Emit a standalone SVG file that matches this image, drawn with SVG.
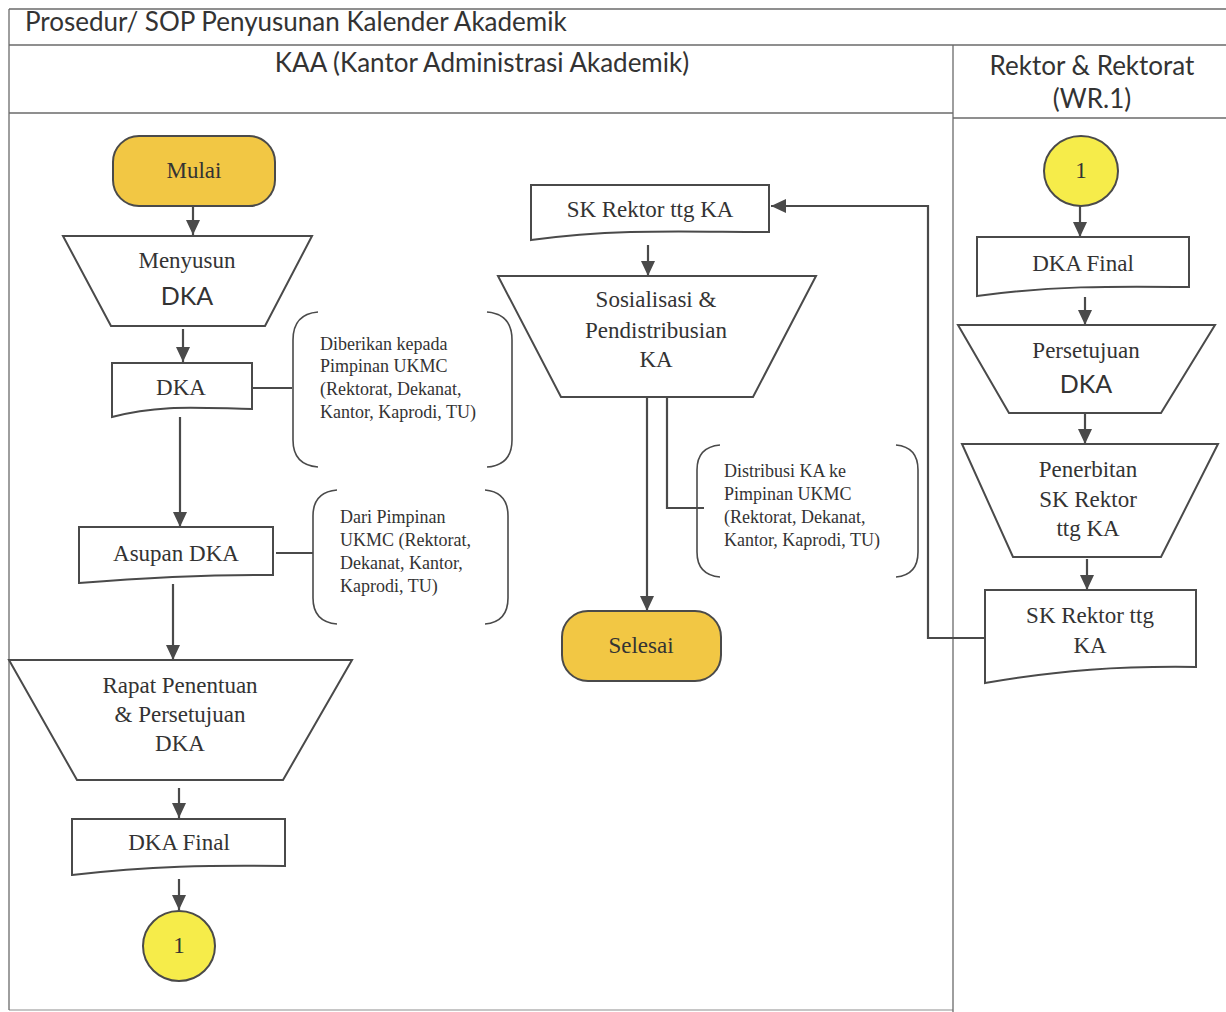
<svg xmlns="http://www.w3.org/2000/svg" width="1226" height="1012" viewBox="0 0 1226 1012">
<defs>
<marker id="arr" markerUnits="userSpaceOnUse" markerWidth="16" markerHeight="14" refX="15" refY="7" orient="auto">
<path d="M0,0 L15,7 L0,14 z" fill="#4a4a4a"/>
</marker>
<style>
.frame{stroke:#6a6a6a;stroke-width:1.3;fill:none}
.shape{fill:#fff;stroke:#4a4a4a;stroke-width:2}
.term{fill:#F2C744;stroke:#4a4a4a;stroke-width:2}
.conn{fill:#F6EC4A;stroke:#4a4a4a;stroke-width:2}
.brace{fill:none;stroke:#4a4a4a;stroke-width:1.6}
.ln{fill:none;stroke:#4a4a4a;stroke-width:2.2}
.t{font-family:"Liberation Serif","Times New Roman",serif;font-size:23px;fill:#333;text-anchor:middle}
.s{font-family:Lato,"Liberation Sans",sans-serif;font-size:25px;fill:#333;text-anchor:middle}
.n{font-family:"Liberation Serif","Times New Roman",serif;font-size:18px;fill:#333}
.h{font-family:Lato,"Liberation Sans",sans-serif;fill:#333}
</style>
</defs>
<rect width="1226" height="1012" fill="#fff"/>
<g id="frame">
<line class="frame" x1="9" y1="9" x2="1226" y2="9"/>
<line class="frame" x1="9" y1="45" x2="1226" y2="45"/>
<line class="frame" x1="9" y1="9" x2="9" y2="1010"/>
<line class="frame" x1="9" y1="113" x2="953" y2="113"/>
<line class="frame" x1="953" y1="118" x2="1226" y2="118"/>
<line class="frame" x1="953" y1="45" x2="953" y2="1012"/>
<line class="frame" x1="9" y1="1010" x2="953" y2="1010" stroke-opacity="0.5"/>
<text class="h" x="25" y="31" font-size="26">Prosedur/ SOP Penyusunan Kalender Akademik</text>
<text class="h" x="482" y="72" font-size="26" text-anchor="middle">KAA (Kantor Administrasi Akademik)</text>
<text class="h" x="1092" y="75" font-size="26" text-anchor="middle">Rektor &amp; Rektorat</text>
<text class="h" x="1092" y="108" font-size="26" text-anchor="middle">(WR.1)</text>
</g>
<g id="connectors">
<path class="ln" d="M193,206 V235" marker-end="url(#arr)"/>
<path class="ln" d="M183,329 V362" marker-end="url(#arr)"/>
<path class="ln" d="M180,417 V527" marker-end="url(#arr)"/>
<path class="ln" d="M173,584 V660" marker-end="url(#arr)"/>
<path class="ln" d="M179,788 V818" marker-end="url(#arr)"/>
<path class="ln" d="M179,879 V910" marker-end="url(#arr)"/>
<path class="ln" d="M253,388 H292"/>
<path class="ln" d="M276,553 H313"/>
<path class="ln" d="M648,245 V276" marker-end="url(#arr)"/>
<path class="ln" d="M647,397 V611" marker-end="url(#arr)"/>
<path class="ln" d="M667,392 V508 H704"/>
<path class="ln" d="M1080,206 V237" marker-end="url(#arr)"/>
<path class="ln" d="M1085,297 V325" marker-end="url(#arr)"/>
<path class="ln" d="M1085,414 V444" marker-end="url(#arr)"/>
<path class="ln" d="M1087,559 V590" marker-end="url(#arr)"/>
<path class="ln" d="M985,638 H928 V206 H771" marker-end="url(#arr)"/>
</g>
<g id="mulai">
<rect class="term" x="113" y="136" width="162" height="70" rx="26"/>
<text class="t" x="194" y="178">Mulai</text>
</g>
<g id="menyusun">
<path class="shape" d="M63,236 H312 L265,326 H111 Z"/>
<text class="t" x="187" y="268">Menyusun</text>
<text class="s" x="187" y="305">DKA</text>
</g>
<g id="dka">
<path class="shape" d="M112,363 H252 V409 C200,408 160,404 112,417 Z"/>
<text class="t" x="181" y="395">DKA</text>
</g>
<g id="note1">
<path class="brace" d="M318,312 Q293,314 293,340 V440 Q293,465 318,467"/>
<path class="brace" d="M487,312 Q512,314 512,340 V440 Q512,465 487,467"/>
<text class="n" x="320" y="350">Diberikan kepada</text>
<text class="n" x="320" y="372">Pimpinan UKMC</text>
<text class="n" x="320" y="395">(Rektorat, Dekanat,</text>
<text class="n" x="320" y="418">Kantor, Kaprodi, TU)</text>
</g>
<g id="asupan">
<path class="shape" d="M79,527 H273 V575 C200,574 140,578 79,583 Z"/>
<text class="t" x="176" y="561">Asupan DKA</text>
</g>
<g id="note2">
<path class="brace" d="M337,490 Q313,492 313,516 V598 Q313,622 337,624"/>
<path class="brace" d="M485,490 Q508,492 508,516 V598 Q508,622 485,624"/>
<text class="n" x="340" y="523">Dari Pimpinan</text>
<text class="n" x="340" y="546">UKMC (Rektorat,</text>
<text class="n" x="340" y="569">Dekanat, Kantor,</text>
<text class="n" x="340" y="592">Kaprodi, TU)</text>
</g>
<g id="rapat">
<path class="shape" d="M9,660 H352 L283,780 H77 Z"/>
<text class="t" x="180" y="693">Rapat Penentuan</text>
<text class="t" x="180" y="722">&amp; Persetujuan</text>
<text class="t" x="180" y="751">DKA</text>
</g>
<g id="dkafinal">
<path class="shape" d="M72,819 H285 V866 C210,865 150,866 72,875 Z"/>
<text class="t" x="179" y="850">DKA Final</text>
</g>
<g id="conn1">
<ellipse class="conn" cx="179" cy="946" rx="36" ry="35"/>
<text class="t" x="179" y="953" font-size="20">1</text>
</g>
<g id="skrektor">
<path class="shape" d="M531,185 H769 V232 C690,232 620,228 531,240 Z"/>
<text class="t" x="650" y="217">SK Rektor ttg KA</text>
</g>
<g id="sosialisasi">
<path class="shape" d="M498,276 H816 L753,397 H561 Z"/>
<text class="t" x="656" y="307">Sosialisasi &amp;</text>
<text class="t" x="656" y="338">Pendistribusian</text>
<text class="t" x="656" y="367">KA</text>
</g>
<g id="note3">
<path class="brace" d="M720,445 Q697,447 697,470 V552 Q697,575 720,577"/>
<path class="brace" d="M896,445 Q918,447 918,470 V552 Q918,575 896,577"/>
<text class="n" x="724" y="477">Distribusi KA ke</text>
<text class="n" x="724" y="500">Pimpinan UKMC</text>
<text class="n" x="724" y="523">(Rektorat, Dekanat,</text>
<text class="n" x="724" y="546">Kantor, Kaprodi, TU)</text>
</g>
<g id="selesai">
<rect class="term" x="562" y="611" width="159" height="70" rx="26"/>
<text class="t" x="641" y="653">Selesai</text>
</g>
<g id="conn1r">
<ellipse class="conn" cx="1081" cy="171" rx="37" ry="35"/>
<text class="t" x="1081" y="178" font-size="20">1</text>
</g>
<g id="dkafinalr">
<path class="shape" d="M977,237 H1189 V287 C1110,286 1050,286 977,296 Z"/>
<text class="t" x="1083" y="271">DKA Final</text>
</g>
<g id="persetujuan">
<path class="shape" d="M958,325 H1215 L1161,413 H1009 Z"/>
<text class="t" x="1086" y="358">Persetujuan</text>
<text class="s" x="1086" y="393">DKA</text>
</g>
<g id="penerbitan">
<path class="shape" d="M962,444 H1218 L1161,557 H1013 Z"/>
<text class="t" x="1088" y="477">Penerbitan</text>
<text class="t" x="1088" y="507">SK Rektor</text>
<text class="t" x="1088" y="536">ttg KA</text>
</g>
<g id="skrektorr">
<path class="shape" d="M985,590 H1196 V667 C1120,666 1060,670 985,683 Z"/>
<text class="t" x="1090" y="623">SK Rektor ttg</text>
<text class="t" x="1090" y="653">KA</text>
</g>
</svg>
